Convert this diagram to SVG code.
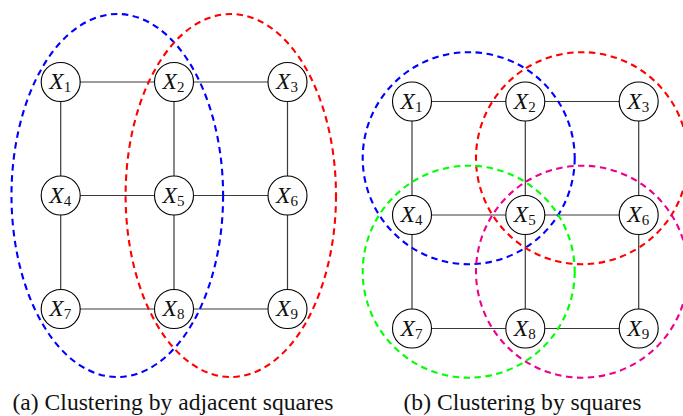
<svg xmlns="http://www.w3.org/2000/svg" width="683" height="416" viewBox="0 0 683 416">
<style>
.edge{stroke:#3a3a3a;stroke-width:1.2;fill:none}
.node circle{fill:#fff;stroke:#000;stroke-width:1.1}
.lbl{font-size:23.5px;fill:#111}
.lbl .v{font-style:italic}
.lbl .s{font-size:15px}
.cl{fill:none;stroke-width:2.1;stroke-dasharray:6.5 4.5}
.cap{font-size:23.6px;fill:#111}
</style>
<rect width="683" height="416" fill="#fff"/>
<g id="connectors">
<path class="edge" d="M60.7 82H287.5M60.7 195.5H287.5M60.7 309H287.5M60.7 82V309M174 82V309M287.5 82V309"/>
<path class="edge" d="M412 101.5H638.7M412 215H638.7M412 328.5H638.7M412 101.5V328.5M525.3 101.5V328.5M638.7 101.5V328.5"/>
</g>
<g id="nodes-a" font-family="Liberation Serif, serif">
<g id="a-x1" class="node"><circle cx="60.7" cy="82" r="19.5"/><text class="lbl" x="60.2" y="89" text-anchor="middle"><tspan class="v">X</tspan><tspan class="s" dy="3">1</tspan></text></g>
<g id="a-x2" class="node"><circle cx="174" cy="82" r="19.5"/><text class="lbl" x="173.5" y="89" text-anchor="middle"><tspan class="v">X</tspan><tspan class="s" dy="3">2</tspan></text></g>
<g id="a-x3" class="node"><circle cx="287.5" cy="82" r="19.5"/><text class="lbl" x="287" y="89" text-anchor="middle"><tspan class="v">X</tspan><tspan class="s" dy="3">3</tspan></text></g>
<g id="a-x4" class="node"><circle cx="60.7" cy="195.5" r="19.5"/><text class="lbl" x="60.2" y="202.5" text-anchor="middle"><tspan class="v">X</tspan><tspan class="s" dy="3">4</tspan></text></g>
<g id="a-x5" class="node"><circle cx="174" cy="195.5" r="19.5"/><text class="lbl" x="173.5" y="202.5" text-anchor="middle"><tspan class="v">X</tspan><tspan class="s" dy="3">5</tspan></text></g>
<g id="a-x6" class="node"><circle cx="287.5" cy="195.5" r="19.5"/><text class="lbl" x="287" y="202.5" text-anchor="middle"><tspan class="v">X</tspan><tspan class="s" dy="3">6</tspan></text></g>
<g id="a-x7" class="node"><circle cx="60.7" cy="309" r="19.5"/><text class="lbl" x="60.2" y="316" text-anchor="middle"><tspan class="v">X</tspan><tspan class="s" dy="3">7</tspan></text></g>
<g id="a-x8" class="node"><circle cx="174" cy="309" r="19.5"/><text class="lbl" x="173.5" y="316" text-anchor="middle"><tspan class="v">X</tspan><tspan class="s" dy="3">8</tspan></text></g>
<g id="a-x9" class="node"><circle cx="287.5" cy="309" r="19.5"/><text class="lbl" x="287" y="316" text-anchor="middle"><tspan class="v">X</tspan><tspan class="s" dy="3">9</tspan></text></g>
</g>
<g id="nodes-b" font-family="Liberation Serif, serif">
<g id="b-x1" class="node"><circle cx="412" cy="101.5" r="19.5"/><text class="lbl" x="411.5" y="108.5" text-anchor="middle"><tspan class="v">X</tspan><tspan class="s" dy="3">1</tspan></text></g>
<g id="b-x2" class="node"><circle cx="525.3" cy="101.5" r="19.5"/><text class="lbl" x="524.8" y="108.5" text-anchor="middle"><tspan class="v">X</tspan><tspan class="s" dy="3">2</tspan></text></g>
<g id="b-x3" class="node"><circle cx="638.7" cy="101.5" r="19.5"/><text class="lbl" x="638.2" y="108.5" text-anchor="middle"><tspan class="v">X</tspan><tspan class="s" dy="3">3</tspan></text></g>
<g id="b-x4" class="node"><circle cx="412" cy="215" r="19.5"/><text class="lbl" x="411.5" y="222" text-anchor="middle"><tspan class="v">X</tspan><tspan class="s" dy="3">4</tspan></text></g>
<g id="b-x5" class="node"><circle cx="525.3" cy="215" r="19.5"/><text class="lbl" x="524.8" y="222" text-anchor="middle"><tspan class="v">X</tspan><tspan class="s" dy="3">5</tspan></text></g>
<g id="b-x6" class="node"><circle cx="638.7" cy="215" r="19.5"/><text class="lbl" x="638.2" y="222" text-anchor="middle"><tspan class="v">X</tspan><tspan class="s" dy="3">6</tspan></text></g>
<g id="b-x7" class="node"><circle cx="412" cy="328.5" r="19.5"/><text class="lbl" x="411.5" y="335.5" text-anchor="middle"><tspan class="v">X</tspan><tspan class="s" dy="3">7</tspan></text></g>
<g id="b-x8" class="node"><circle cx="525.3" cy="328.5" r="19.5"/><text class="lbl" x="524.8" y="335.5" text-anchor="middle"><tspan class="v">X</tspan><tspan class="s" dy="3">8</tspan></text></g>
<g id="b-x9" class="node"><circle cx="638.7" cy="328.5" r="19.5"/><text class="lbl" x="638.2" y="335.5" text-anchor="middle"><tspan class="v">X</tspan><tspan class="s" dy="3">9</tspan></text></g>
</g>
<g id="clusters">
<ellipse class="cl" cx="117.3" cy="195.5" rx="105.8" ry="181.5" stroke="#0000ff"/>
<ellipse class="cl" cx="230.8" cy="195.5" rx="105.2" ry="181.5" stroke="#ff0000"/>
<circle class="cl" cx="468.7" cy="158.2" r="106" stroke="#0000ff"/>
<circle class="cl" cx="582" cy="158.2" r="106" stroke="#ff0000"/>
<circle class="cl" cx="468.7" cy="271.7" r="106" stroke="#00ff00"/>
<circle class="cl" cx="582" cy="271.7" r="106" stroke="#ec008c"/>
</g>
<g id="captions" font-family="Liberation Serif, serif">
<text class="cap" x="12.5" y="410">(a) Clustering by adjacent squares</text>
<text class="cap" x="403.5" y="410">(b) Clustering by squares</text>
</g>
</svg>
